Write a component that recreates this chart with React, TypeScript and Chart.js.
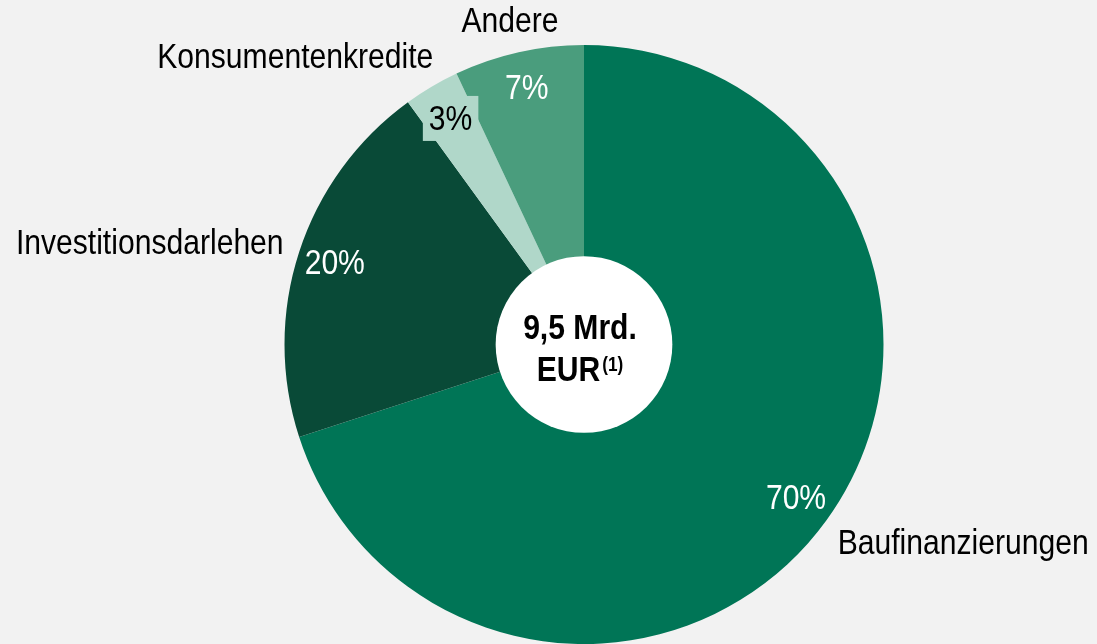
import React, { useEffect, useRef } from "react";
import { Chart, registerables } from "chart.js";

Chart.register(...registerables);

const categories = ["Baufinanzierungen", "Investitionsdarlehen", "Konsumentenkredite", "Andere"];
const shares = [70, 20, 3, 7];
const percentLabels = ["70%", "20%", "3%", "7%"];
const sliceColors = ["#007556", "#094a37", "#b0d7c9", "#4a9d7d"];
const percentColors = ["#ffffff", "#ffffff", "#000000", "#ffffff"];
const centerLine1 = "9,5 Mrd.";
const centerLine2 = "EUR";
const centerSup = "(1)";

// outer label placement in units of radius from the pie centre: [dx, dy, align]
const outerLabelPos: [number, number, CanvasTextAlign][] = [
  [0.847, 0.667, "left"],
  [-1.003, -0.333, "right"],
  [-0.503, -0.957, "right"],
  [-0.247, -1.077, "center"],
];

const FONT = "'Liberation Sans', Arial, sans-serif";
const SX = 0.86; // horizontal condensing to mimic a narrow face

function narrowText(
  ctx: CanvasRenderingContext2D,
  text: string,
  x: number,
  y: number,
  align: "left" | "right" | "center"
) {
  const w = ctx.measureText(text).width * SX;
  let left = x;
  if (align === "center") left = x - w / 2;
  else if (align === "right") left = x - w;
  ctx.save();
  ctx.translate(left, y);
  ctx.scale(SX, 1);
  ctx.textAlign = "left";
  ctx.fillText(text, 0, 0);
  ctx.restore();
  return w;
}

const labelPlugin = {
  id: "labelPlugin",
  afterDatasetsDraw(chart: any) {
    const ctx = chart.ctx as CanvasRenderingContext2D;
    const meta = chart.getDatasetMeta(0);
    const arcs = meta.data;
    if (!arcs.length) return;
    const cx = arcs[0].x;
    const cy = arcs[0].y;
    const r = arcs[0].outerRadius;
    ctx.save();
    ctx.textBaseline = "middle";
    // percentages
    arcs.forEach((arc: any, i: number) => {
      const mid = (arc.startAngle + arc.endAngle) / 2;
      const d = r * 0.875;
      const x = cx + Math.cos(mid) * d;
      const y = cy + Math.sin(mid) * d;
      ctx.font = `35px ${FONT}`;
      if (i === 2) {
        const w = ctx.measureText(percentLabels[i]).width * SX;
        ctx.fillStyle = sliceColors[i];
        ctx.fillRect(x - w / 2 - 6, y - 23, w + 12, 45);
      }
      ctx.fillStyle = percentColors[i];
      narrowText(ctx, percentLabels[i], x, y + 1, "center");
    });
    // outer labels
    ctx.fillStyle = "#000000";
    ctx.font = `35px ${FONT}`;
    categories.forEach((c, i) => {
      const [dx, dy, al] = outerLabelPos[i];
      narrowText(ctx, c, cx + dx * r, cy + dy * r, al as any);
    });
    // centre circle
    ctx.beginPath();
    ctx.arc(cx, cy, r * 0.295, 0, Math.PI * 2);
    ctx.fillStyle = "#ffffff";
    ctx.fill();
    ctx.fillStyle = "#000000";
    ctx.font = `bold 35px ${FONT}`;
    narrowText(ctx, centerLine1, cx - 4, cy - 15, "center");
    const w2 = ctx.measureText(centerLine2).width * SX;
    ctx.font = `bold 20px ${FONT}`;
    const ws = ctx.measureText(centerSup).width * SX;
    const total = w2 + 2 + ws;
    const startX = cx - 4 - total / 2;
    ctx.font = `bold 35px ${FONT}`;
    narrowText(ctx, centerLine2, startX, cy + 27, "left");
    ctx.font = `bold 20px ${FONT}`;
    narrowText(ctx, centerSup, startX + w2 + 2, cy + 24 - 3, "left");
    ctx.restore();
  },
};

export default function App() {
  const ref = useRef<HTMLCanvasElement>(null);
  useEffect(() => {
    document.body.style.margin = "0";
    const chart = new Chart(ref.current!, {
      type: "pie",
      data: {
        labels: categories,
        datasets: [
          {
            data: shares,
            backgroundColor: sliceColors,
            borderWidth: 0,
          },
        ],
      },
      options: {
        animation: false,
        responsive: false,
        layout: { padding: { top: 45, bottom: 0, left: 284, right: 213 } },
        plugins: { legend: { display: false }, tooltip: { enabled: false } },
      },
      plugins: [labelPlugin],
    });
    return () => chart.destroy();
  }, []);
  return (
    <div style={{ width: 1097, height: 644, background: "#f2f2f2", position: "fixed", left: 0, top: 0 }}>
      <canvas ref={ref} width={1097} height={644} />
    </div>
  );
}
